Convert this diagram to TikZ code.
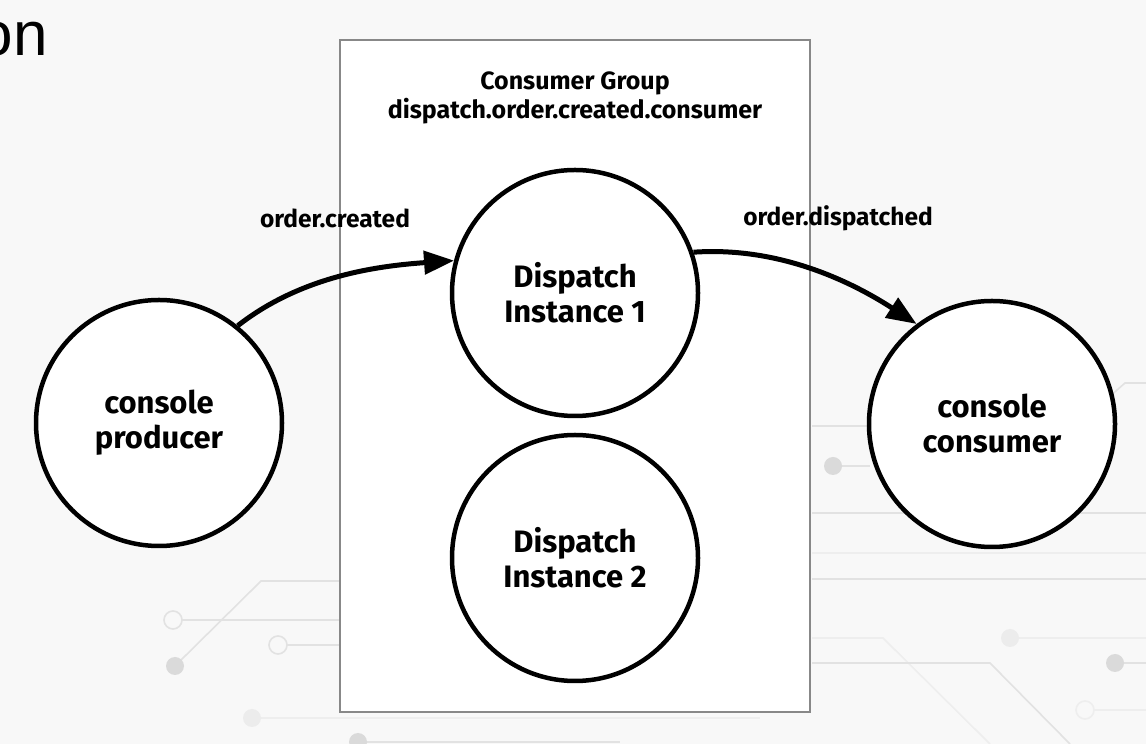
\documentclass[tikz,border=0pt]{standalone}
\usepackage{fontspec}
\setmainfont{Fira Sans}
\newfontfamily\titlefont{Liberation Sans}
\usetikzlibrary{arrows.meta}
\definecolor{bgcol}{HTML}{F8F8F8}
\definecolor{circuit}{HTML}{E2E2E2}
\definecolor{circdot}{HTML}{DADADA}
\definecolor{boxgray}{HTML}{888888}
\tikzset{
  proc/.style={circle, draw=black, line width=4.5pt, fill=white, minimum size=246pt, inner sep=0pt,
    align=center, font=\fontsize{31}{35}\selectfont\bfseries},
  grpbox/.style={draw=boxgray, line width=2.6pt, fill=white},
  grplabel/.style={align=center, font=\fontsize{25}{29}\selectfont\bfseries},
  edgelabel/.style={font=\fontsize{24.5}{28}\selectfont\bfseries, inner sep=0pt},
  flow/.style={line width=5pt, -{Triangle[length=30pt,width=23pt]}},
  trace/.style={draw=circuit, line width=1.6pt},
  tdot/.style={fill=circdot},
  tring/.style={draw=circuit, line width=1.6pt, fill=bgcol}
}
\begin{document}
\begin{tikzpicture}[x=1pt,y=1pt]
\useasboundingbox (0,0) rectangle (1146,744);
\begin{scope}
\clip (0,0) rectangle (1146,744);
\fill[bgcol] (0,0) rectangle (1146,744);
% faint circuit decoration
\draw[trace] (175,78) -- (261,163) -- (340,163);
\fill[tdot] (175,78) circle (9);
\draw[trace] (182,124) -- (340,124);
\draw[tring] (173,124) circle (9);
\draw[trace] (287,99) -- (340,99);
\draw[tring] (278,99) circle (9);
\draw[trace, draw=circuit!60] (252,26) -- (760,26);
\fill[circdot!50] (252,26) circle (9);
\draw[trace] (358,2) -- (620,2);
\fill[tdot] (358,2) circle (9);
\draw[trace] (812,318) -- (870,318);
\draw[trace] (833,278) -- (870,278);
\fill[tdot] (833,278) circle (9);
\draw[trace] (812,231) -- (1146,231);
\draw[trace, draw=circuit!60] (812,191) -- (1146,191);
\draw[trace] (812,165) -- (1146,165);
\draw[trace, draw=circuit!60] (812,106) -- (883,106) -- (990,0);
\draw[trace] (812,81) -- (990,81) -- (1070,0);
\draw[trace, draw=circuit!60] (1010,106) -- (1146,106);
\fill[circdot!50] (1010,106) circle (9);
\draw[trace] (1115,81) -- (1146,81);
\fill[tdot] (1115,81) circle (9);
\draw[trace, draw=circuit!60] (1094,34) -- (1146,34);
\draw[tring, draw=circuit!60] (1085,34) circle (9);
\draw[trace] (1108,346) -- (1125,361) -- (1146,361);
% title fragment
\node[anchor=base east, inner sep=0pt, font=\titlefont\fontsize{62}{62}\selectfont] (title) at (48,688) {on};
\end{scope}
% consumer group box
\draw[grpbox] (340,704) rectangle (810,32);
\node[grplabel] (group) at (575,646) {Consumer Group\\dispatch.order.created.consumer};
% processes
\node[proc] (prod) at (159,321) {console\\producer};
\node[proc] (d1) at (575,451) {Dispatch\\Instance 1};
\node[proc] (d2) at (575,186) {Dispatch\\Instance 2};
\node[proc] (cons) at (992,320) {console\\consumer};
% connectors
\draw[flow] (prod.51) to[out=38, in=184, looseness=0.9] (d1.165);
\draw[flow] (d1.19) to[out=4, in=147, looseness=0.9] (cons.127);
% labels
\node[edgelabel] (lab1) at (335,526) {order.created};
\node[edgelabel] (lab2) at (838,526) {order.dispatched};
\end{tikzpicture}
\end{document}
